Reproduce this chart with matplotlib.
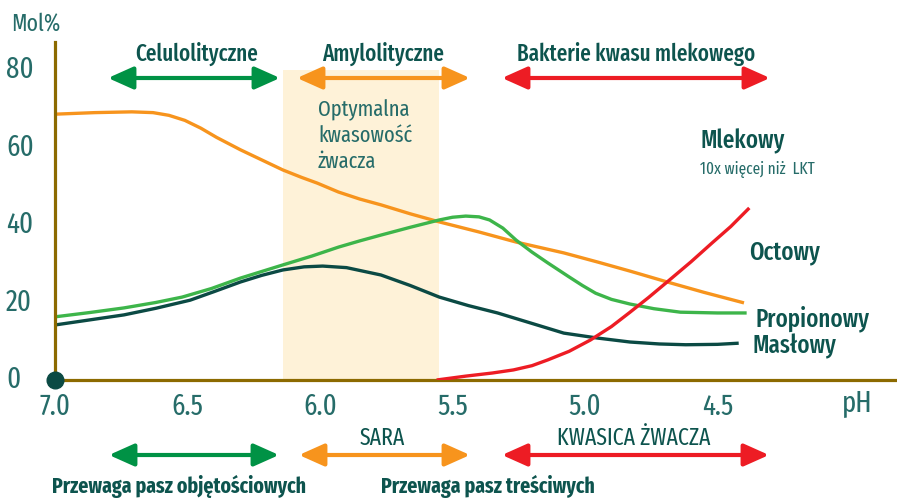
import matplotlib
matplotlib.use("Agg")
import matplotlib.pyplot as plt
from matplotlib.transforms import blended_transform_factory
from matplotlib.patches import Rectangle

FONTS = ['Fira Sans Extra Condensed', 'Asap Condensed', 'Archivo Narrow', 'DejaVu Sans']
plt.rcParams['font.family'] = FONTS

# ---------------- data ----------------
ph_octowy = [7.0, 6.85, 6.71, 6.63, 6.57, 6.51, 6.45, 6.39, 6.30, 6.22, 6.14, 6.07, 6.01, 5.93,
             5.85, 5.77, 5.66, 5.55, 5.40, 5.26, 5.08, 4.95, 4.83, 4.69, 4.55, 4.40]
val_octowy = [68.6, 69.0, 69.2, 69.0, 68.3, 67.0, 65.0, 62.6, 59.4, 56.8, 54.2, 52.3, 50.8, 48.5,
              46.7, 45.2, 42.9, 40.8, 38.2, 35.6, 32.8, 30.4, 28.1, 25.3, 22.6, 19.9]

ph_propionowy = [7.0, 6.87, 6.74, 6.62, 6.52, 6.41, 6.30, 6.22, 6.14, 6.03, 5.93, 5.85, 5.77, 5.66,
                 5.55, 5.50, 5.45, 5.40, 5.36, 5.31, 5.26, 5.20, 5.14, 5.10, 5.06, 5.01, 4.96, 4.90,
                 4.83, 4.74, 4.64, 4.50, 4.39]
val_propionowy = [16.3, 17.4, 18.6, 20.0, 21.4, 23.6, 26.3, 28.0, 29.7, 32.0, 34.3, 35.9, 37.4, 39.4,
                  41.3, 42.0, 42.3, 42.1, 41.3, 39.2, 36.1, 33.0, 30.2, 28.4, 26.6, 24.4, 22.4, 20.8,
                  19.6, 18.4, 17.5, 17.3, 17.3]

ph_maslowy = [7.0, 6.87, 6.74, 6.62, 6.49, 6.40, 6.30, 6.22, 6.14, 6.06, 5.99, 5.90, 5.77, 5.66,
              5.55, 5.44, 5.33, 5.20, 5.08, 4.95, 4.83, 4.72, 4.62, 4.50, 4.42]
val_maslowy = [14.2, 15.5, 16.8, 18.5, 20.6, 22.8, 25.3, 27.0, 28.4, 29.2, 29.4, 29.0, 27.1, 24.4,
               21.4, 19.2, 17.3, 14.6, 12.1, 10.8, 9.8, 9.3, 9.1, 9.2, 9.5]

ph_mlekowy = [5.56, 5.45, 5.35, 5.27, 5.20, 5.14, 5.06, 4.98, 4.90, 4.83, 4.76, 4.69, 4.60, 4.52, 4.45, 4.38]
val_mlekowy = [0.0, 1.0, 1.8, 2.6, 3.7, 5.2, 7.4, 10.3, 13.8, 17.5, 21.3, 25.3, 30.5, 35.4, 39.6, 44.4]

optimal_range = [6.14, 5.55]   # pH range of optimal rumen acidity
y_ticks = [0, 20, 40, 60, 80]
x_ticks = [7.0, 6.5, 6.0, 5.5, 5.0, 4.5]
x_tick_labels = ["7.0", "6.5", "6.0", "5.5", "5.0", "4.5"]

# ---------------- style ----------------
W, H = 897, 498
C_AXIS = "#8C6A00"
C_TEXT = "#0D544E"
C_TICK = "#266C69"
C_ORANGE = "#F7941D"
C_LGREEN = "#3DB54A"
C_DARK = "#0B4A44"
C_RED = "#ED1C24"
C_GREEN_ARROW = "#009245"
C_SHADE = "#FEF2D8"

fig = plt.figure(figsize=(W / 100, H / 100), dpi=100)
fig.patch.set_facecolor("white")


def fx(px):
    return px / W


def fy(py):
    return 1 - py / H


ax_left, ax_right, ax_top, ax_bottom = 55, 897, 42, 380
ax = fig.add_axes([fx(ax_left), fy(ax_bottom), (ax_right - ax_left) / W, (ax_bottom - ax_top) / H])
ax.set_xlim(7.0, 7.0 - (ax_right - ax_left) / 265.0)
ax.set_ylim(0, (ax_bottom - ax_top) / 3.875)
ax.set_facecolor("none")

for s in ["top", "right"]:
    ax.spines[s].set_visible(False)
for s in ["left", "bottom"]:
    ax.spines[s].set_color(C_AXIS)
    ax.spines[s].set_linewidth(2.3)
    ax.spines[s].set_zorder(5)

# optimal band
ax.add_patch(Rectangle((optimal_range[0], 0), optimal_range[1] - optimal_range[0], 80,
                       facecolor=C_SHADE, edgecolor="none", zorder=0))

lw = 2.4
kw = dict(lw=lw, solid_capstyle="butt", solid_joinstyle="round")
ax.plot(ph_octowy, val_octowy, color=C_ORANGE, zorder=3, **kw)
ax.plot(ph_propionowy, val_propionowy, color=C_LGREEN, zorder=3, **kw)
ax.plot(ph_maslowy, val_maslowy, color=C_DARK, zorder=3, **kw)
ax.plot(ph_mlekowy, val_mlekowy, color=C_RED, zorder=6, **kw)

ax.plot([7.0], [0], "o", color=C_DARK, markersize=12, zorder=7, clip_on=False)

# ticks
ax.set_xticks(x_ticks)
ax.set_xticklabels(x_tick_labels)
ax.set_yticks([])
ax.tick_params(axis="x", length=0, pad=9, labelsize=21, labelcolor=C_TICK)

tr_y = blended_transform_factory(fig.transFigure, ax.transData)
for v in y_ticks:
    ax.text(fx(6), v, str(v), transform=tr_y, ha="left", va="center",
            fontsize=21, color=C_TICK, clip_on=False)

fig.text(fx(36), fy(24), "Mol%", ha="center", va="center", fontsize=17, color=C_TICK)
fig.text(fx(857), fy(403), "pH", ha="center", va="center", fontsize=21, color=C_TICK)


def arrow(x1, x2, py, color):
    ax.annotate("", xy=(fx(x2), fy(py)), xytext=(fx(x1), fy(py)),
                xycoords="figure fraction", textcoords="figure fraction",
                arrowprops=dict(arrowstyle="<|-|>,head_length=0.85,head_width=0.38",
                                color=color, lw=3.0, mutation_scale=18,
                                shrinkA=0, shrinkB=0))


def label(px, py, s, size=15, weight="normal", color=C_TEXT, ha="center"):
    fig.text(fx(px), fy(py), s, ha=ha, va="center", fontsize=size,
             fontweight=weight, color=color)


# top annotations
label(197, 54, "Celulolityczne", size=16.5, weight="medium")
arrow(108, 280, 78, C_GREEN_ARROW)
label(383, 54, "Amylolityczne", size=16.5, weight="medium")
arrow(297, 470, 78, C_ORANGE)
label(636, 54, "Bakterie kwasu mlekowego", size=16.5, weight="medium")
arrow(502, 770, 78, C_RED)

# optimal text
label(318, 110, "Optymalna", size=16, ha="left", color=C_TICK)
label(318, 136, "kwasowość", size=16, ha="left", color=C_TICK)
label(318, 162, "żwacza", size=16, ha="left", color=C_TICK)

# series labels
label(700, 141, "Mlekowy", size=18, ha="left", weight="medium")
label(700, 169, "10x więcej niż  LKT", size=12, ha="left", color=C_TICK)
label(749, 253, "Octowy", size=18, ha="left", weight="medium")
label(755, 319, "Propionowy", size=18, ha="left", weight="medium")
label(752, 346, "Masłowy", size=18, ha="left", weight="medium")

# bottom annotations
label(382, 438, "SARA", size=17)
label(634, 438, "KWASICA ŻWACZA", size=17)
arrow(109, 279, 455, C_GREEN_ARROW)
arrow(299, 470, 455, C_ORANGE)
arrow(502, 769, 455, C_RED)
label(179, 486, "Przewaga pasz objętościowych", size=15.5, weight="bold")
label(488, 486, "Przewaga pasz treściwych", size=15.5, weight="bold")

fig.savefig("out.png", dpi=100)
